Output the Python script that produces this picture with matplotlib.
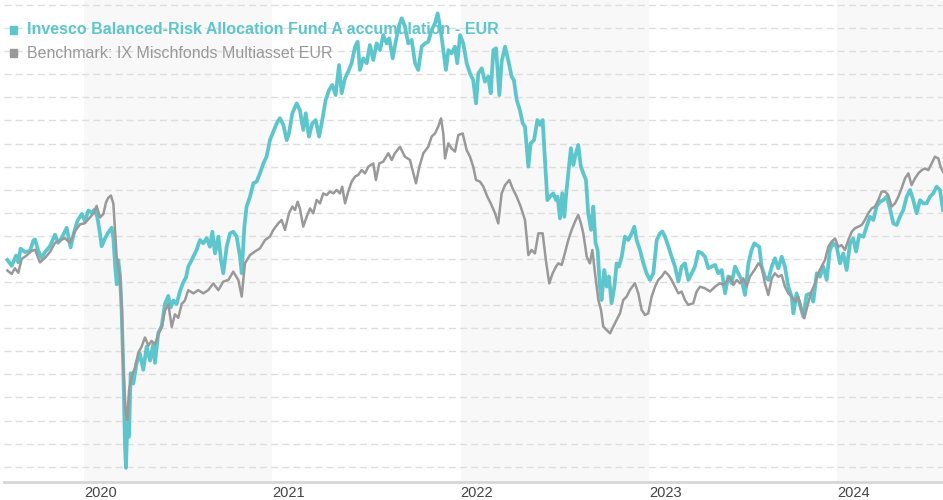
import matplotlib
matplotlib.use('Agg')
import matplotlib.pyplot as plt
from matplotlib.patches import Rectangle

# values, x in decimal years, y in gridline units
fund_t = [2019.592, 2019.615, 2019.638, 2019.650, 2019.662, 2019.685, 2019.712, 2019.730, 2019.739, 2019.756,
          2019.774, 2019.792, 2019.818, 2019.845, 2019.862, 2019.880, 2019.907, 2019.928, 2019.946, 2019.964,
          2019.987, 2020.004, 2020.022, 2020.040, 2020.057, 2020.070, 2020.084, 2020.093, 2020.111, 2020.128,
          2020.146, 2020.155, 2020.164, 2020.173, 2020.181, 2020.190, 2020.199, 2020.208, 2020.217, 2020.222,
          2020.229, 2020.238, 2020.247, 2020.261, 2020.279, 2020.296, 2020.314, 2020.332, 2020.350, 2020.367,
          2020.376, 2020.394, 2020.412, 2020.429, 2020.447, 2020.459, 2020.474, 2020.491, 2020.509, 2020.527,
          2020.541, 2020.553, 2020.571, 2020.597, 2020.615, 2020.633, 2020.651, 2020.668, 2020.681, 2020.695,
          2020.713, 2020.727, 2020.739, 2020.757, 2020.775, 2020.792, 2020.810, 2020.828, 2020.837, 2020.851,
          2020.863, 2020.881, 2020.899, 2020.916, 2020.934, 2020.952, 2020.969, 2020.987, 2021.005, 2021.023,
          2021.040, 2021.058, 2021.076, 2021.088, 2021.106, 2021.129, 2021.146, 2021.164, 2021.177, 2021.194,
          2021.212, 2021.230, 2021.248, 2021.265, 2021.283, 2021.301, 2021.318, 2021.336, 2021.354, 2021.368,
          2021.386, 2021.403, 2021.421, 2021.439, 2021.453, 2021.465, 2021.483, 2021.501, 2021.518, 2021.536,
          2021.554, 2021.572, 2021.589, 2021.607, 2021.621, 2021.639, 2021.657, 2021.674, 2021.687, 2021.704,
          2021.722, 2021.740, 2021.758, 2021.775, 2021.793, 2021.811, 2021.828, 2021.846, 2021.864, 2021.878,
          2021.894, 2021.908, 2021.922, 2021.935, 2021.952, 2021.970, 2021.982, 2021.997, 2022.014, 2022.032,
          2022.050, 2022.067, 2022.082, 2022.094, 2022.112, 2022.129, 2022.147, 2022.160, 2022.174, 2022.188,
          2022.206, 2022.218, 2022.236, 2022.253, 2022.271, 2022.283, 2022.298, 2022.315, 2022.330, 2022.342,
          2022.360, 2022.372, 2022.390, 2022.408, 2022.422, 2022.436, 2022.448, 2022.461, 2022.475, 2022.492,
          2022.507, 2022.515, 2022.528, 2022.540, 2022.551, 2022.563, 2022.576, 2022.586, 2022.599, 2022.611,
          2022.625, 2022.639, 2022.652, 2022.666, 2022.678, 2022.693, 2022.705, 2022.717, 2022.728, 2022.740,
          2022.749, 2022.763, 2022.776, 2022.788, 2022.802, 2022.817, 2022.829, 2022.841, 2022.856, 2022.873,
          2022.891, 2022.909, 2022.923, 2022.935, 2022.953, 2022.971, 2022.988, 2023.006, 2023.024, 2023.042,
          2023.059, 2023.072, 2023.086, 2023.104, 2023.121, 2023.139, 2023.157, 2023.174, 2023.192, 2023.210,
          2023.228, 2023.245, 2023.263, 2023.281, 2023.298, 2023.316, 2023.334, 2023.352, 2023.369, 2023.387,
          2023.405, 2023.422, 2023.440, 2023.458, 2023.475, 2023.493, 2023.511, 2023.529, 2023.546, 2023.561,
          2023.573, 2023.587, 2023.599, 2023.617, 2023.635, 2023.653, 2023.670, 2023.688, 2023.706, 2023.723,
          2023.741, 2023.759, 2023.768, 2023.785, 2023.803, 2023.821, 2023.838, 2023.860, 2023.874, 2023.892,
          2023.909, 2023.927, 2023.945, 2023.962, 2023.980, 2023.998, 2024.016, 2024.033, 2024.051, 2024.069,
          2024.086, 2024.101, 2024.118, 2024.140, 2024.157, 2024.175, 2024.193, 2024.210, 2024.228, 2024.246,
          2024.264, 2024.281, 2024.299, 2024.317, 2024.334, 2024.352, 2024.370, 2024.388, 2024.405, 2024.423,
          2024.441, 2024.458, 2024.476, 2024.494, 2024.511, 2024.529, 2024.547, 2024.563]
fund_v = [8.96, 8.7, 9.15, 8.85, 9.45, 9.3, 9.35, 9.8, 9.85, 9.35,
          9.05, 9.3, 9.55, 10.05, 9.7, 9.9, 10.35, 9.5, 10.15, 10.65,
          10.95, 10.65, 11.1, 11.0, 11.15, 10.8, 10.1, 9.55, 9.9, 10.15,
          10.35, 9.9, 8.75, 7.9, 8.95, 8.3, 6.75, 4.2, 0.85, -0.05,
          1.85, 1.3, 4.05, 3.6, 4.5, 4.9, 4.2, 5.2, 4.6, 5.3,
          4.5, 5.8, 6.1, 7.05, 7.4, 6.9, 7.2, 7.05, 7.6, 8.0,
          8.2, 8.67, 8.95, 9.39, 9.82, 9.68, 9.9, 9.53, 10.18, 9.24,
          9.97, 8.95, 8.38, 9.53, 10.11, 10.18, 9.97, 9.1, 8.38, 10.4,
          11.27, 11.7, 12.28, 12.35, 12.71, 13.14, 13.43, 14.15, 14.52, 14.88,
          15.1, 14.81, 14.15, 14.44, 15.31, 15.74, 15.45, 14.59, 15.31, 14.3,
          14.88, 15.02, 14.3, 15.02, 15.89, 16.32, 16.54, 16.1, 17.4, 16.18,
          16.83, 17.12, 17.48, 18.2, 18.41, 17.19, 17.69, 17.48, 18.27, 17.62,
          18.34, 18.05, 18.7, 18.34, 18.56, 17.69, 18.49, 19.14, 19.43, 19.07,
          18.34, 18.49, 17.48, 17.19, 18.2, 18.34, 18.41, 18.92, 19.21, 19.64,
          18.92, 18.05, 17.19, 18.05, 17.91, 18.2, 17.48, 18.7, 18.34, 17.48,
          17.04, 16.75, 15.74, 17.04, 17.26, 16.68, 16.9, 16.18, 18.05, 18.13,
          16.1, 17.55, 18.2, 17.62, 16.9, 16.75, 15.89, 15.45, 14.88, 14.73,
          13.0, 14.01, 14.15, 15.02, 14.81, 15.02, 13.29, 11.55, 11.7, 11.84,
          11.55, 11.7, 10.76, 11.85, 10.83, 11.99, 13.0, 13.8, 13.07, 13.51,
          13.94, 13.0, 12.71, 12.42, 10.98, 10.26, 11.27, 9.68, 9.39, 7.8,
          7.22, 8.52, 7.8, 8.24, 7.08, 7.8, 8.81, 8.67, 9.1, 9.97,
          9.82, 10.11, 10.4, 9.82, 9.39, 8.81, 8.38, 8.09, 8.38, 9.82,
          10.11, 10.19, 9.97, 9.54, 9.1, 8.67, 8.02, 8.67, 8.81, 8.09,
          8.38, 8.67, 9.32, 9.25, 9.1, 8.6, 8.67, 8.74, 8.38, 8.52,
          7.51, 8.24, 7.95, 8.67, 8.38, 8.09, 7.44, 8.81, 9.39, 9.68,
          9.6, 9.53, 8.67, 8.23, 8.09, 8.67, 9.03, 8.59, 9.1, 8.67,
          7.8, 7.37, 6.64, 7.51, 7.0, 6.5, 7.44, 7.51, 7.15, 8.38,
          8.23, 8.67, 8.09, 9.39, 9.68, 9.53, 8.81, 9.24, 8.52, 9.68,
          9.89, 9.32, 10.04, 9.96, 10.4, 10.83, 10.69, 11.27, 11.48, 11.55,
          11.7, 11.19, 10.54, 10.47, 10.83, 11.12, 11.7, 11.99, 11.55, 10.98,
          11.55, 11.41, 11.41, 11.7, 11.84, 12.13, 11.99, 11.12]

bench_t = [2019.592, 2019.615, 2019.632, 2019.650, 2019.668, 2019.694, 2019.721, 2019.739, 2019.765, 2019.792,
           2019.818, 2019.845, 2019.871, 2019.898, 2019.924, 2019.951, 2019.978, 2020.004, 2020.031, 2020.052,
           2020.066, 2020.084, 2020.102, 2020.116, 2020.128, 2020.142, 2020.155, 2020.164, 2020.173, 2020.181,
           2020.190, 2020.199, 2020.208, 2020.220, 2020.229, 2020.238, 2020.252, 2020.270, 2020.288, 2020.305,
           2020.323, 2020.341, 2020.358, 2020.376, 2020.394, 2020.412, 2020.429, 2020.447, 2020.465, 2020.482,
           2020.500, 2020.518, 2020.535, 2020.553, 2020.580, 2020.606, 2020.633, 2020.659, 2020.686, 2020.713,
           2020.739, 2020.766, 2020.792, 2020.819, 2020.837, 2020.854, 2020.881, 2020.907, 2020.934, 2020.961,
           2020.987, 2021.005, 2021.031, 2021.049, 2021.067, 2021.088, 2021.106, 2021.120, 2021.134, 2021.146,
           2021.164, 2021.182, 2021.200, 2021.217, 2021.235, 2021.253, 2021.270, 2021.288, 2021.306, 2021.324,
           2021.341, 2021.359, 2021.371, 2021.386, 2021.403, 2021.421, 2021.439, 2021.456, 2021.474, 2021.492,
           2021.510, 2021.536, 2021.550, 2021.568, 2021.589, 2021.616, 2021.634, 2021.651, 2021.678, 2021.704,
           2021.731, 2021.749, 2021.763, 2021.781, 2021.802, 2021.828, 2021.846, 2021.864, 2021.881, 2021.896,
           2021.908, 2021.917, 2021.935, 2021.952, 2021.970, 2021.988, 2022.011, 2022.032, 2022.050, 2022.067,
           2022.082, 2022.103, 2022.121, 2022.142, 2022.160, 2022.183, 2022.200, 2022.218, 2022.236, 2022.259,
           2022.276, 2022.298, 2022.319, 2022.342, 2022.360, 2022.377, 2022.395, 2022.413, 2022.436, 2022.453,
           2022.471, 2022.489, 2022.507, 2022.519, 2022.537, 2022.554, 2022.572, 2022.590, 2022.608, 2022.625,
           2022.639, 2022.652, 2022.670, 2022.687, 2022.700, 2022.714, 2022.732, 2022.746, 2022.758, 2022.776,
           2022.794, 2022.811, 2022.829, 2022.847, 2022.864, 2022.882, 2022.900, 2022.926, 2022.944, 2022.962,
           2022.980, 2022.997, 2023.015, 2023.033, 2023.050, 2023.068, 2023.086, 2023.104, 2023.121, 2023.139,
           2023.157, 2023.174, 2023.192, 2023.210, 2023.236, 2023.254, 2023.272, 2023.298, 2023.325, 2023.352,
           2023.378, 2023.396, 2023.413, 2023.431, 2023.449, 2023.467, 2023.484, 2023.502, 2023.520, 2023.537,
           2023.561, 2023.582, 2023.599, 2023.617, 2023.635, 2023.653, 2023.670, 2023.688, 2023.706, 2023.723,
           2023.741, 2023.759, 2023.777, 2023.794, 2023.812, 2023.826, 2023.842, 2023.860, 2023.883, 2023.900,
           2023.918, 2023.936, 2023.954, 2023.971, 2023.989, 2024.007, 2024.024, 2024.042, 2024.060, 2024.078,
           2024.095, 2024.113, 2024.131, 2024.148, 2024.166, 2024.184, 2024.202, 2024.219, 2024.237, 2024.255,
           2024.272, 2024.290, 2024.308, 2024.326, 2024.343, 2024.361, 2024.379, 2024.396, 2024.414, 2024.432,
           2024.450, 2024.467, 2024.485, 2024.503, 2024.520, 2024.538, 2024.550, 2024.563]
bench_v = [8.5, 8.35, 8.6, 8.4, 9.0, 9.15, 9.35, 9.4, 8.85, 9.05,
           9.3, 9.7, 9.8, 9.9, 9.7, 10.2, 10.5, 10.55, 10.8, 11.0,
           11.3, 10.8, 10.95, 11.45, 11.65, 11.75, 11.4, 10.25, 9.05, 8.65,
           8.2, 7.05, 4.3, 2.45, 2.0, 3.3, 3.9, 4.3, 4.95, 5.2,
           5.6, 5.25, 5.45, 5.3, 5.75, 6.05, 6.75, 7.05, 6.05, 6.6,
           6.45, 7.05, 7.2, 7.65, 7.51, 7.65, 7.51, 7.65, 7.94, 7.65,
           8.02, 8.09, 8.45, 8.09, 7.37, 8.81, 9.17, 9.32, 9.46, 9.82,
           9.97, 10.26, 10.54, 10.69, 10.26, 10.98, 11.27, 11.12, 11.48, 11.19,
           10.4, 10.83, 11.19, 10.98, 11.56, 11.41, 11.84, 11.77, 11.92, 11.84,
           11.99, 11.84, 12.13, 11.41, 11.92, 12.35, 12.57, 12.64, 12.85, 12.71,
           13.0, 13.14, 12.42, 13.14, 13.22, 13.58, 13.29, 13.58, 13.86, 13.43,
           13.29, 12.71, 12.28, 13.0, 13.58, 13.86, 14.3, 14.44, 14.73, 15.09,
           14.44, 13.36, 14.01, 13.79, 13.65, 14.37, 14.44, 13.72, 13.43, 13.0,
           12.42, 12.35, 12.13, 11.7, 11.41, 10.98, 10.54, 11.84, 12.2, 12.42,
           12.06, 11.7, 11.27, 10.69, 9.17, 9.39, 9.24, 10.11, 10.11, 8.95,
           7.94, 8.38, 8.67, 8.81, 8.74, 9.25, 9.82, 10.26, 10.62, 10.91,
           10.55, 10.11, 9.1, 8.81, 9.39, 8.38, 7.22, 6.79, 6.07, 5.92,
           5.78, 6.07, 6.36, 6.65, 7.22, 7.37, 7.66, 7.95, 7.51, 6.79,
           6.57, 6.65, 7.37, 7.8, 8.09, 8.24, 8.45, 8.31, 8.09, 7.8,
           7.51, 7.59, 7.22, 7.01, 7.08, 7.59, 7.8, 7.73, 7.59, 7.8,
           7.95, 7.87, 8.02, 8.24, 7.87, 8.09, 7.95, 8.16, 7.8, 8.24,
           8.52, 8.81, 8.67, 7.94, 7.44, 8.16, 8.38, 8.23, 8.3, 7.8,
           7.51, 7.37, 7.15, 7.37, 6.79, 6.43, 6.93, 7.51, 7.94, 8.38,
           8.67, 8.96, 9.53, 9.75, 9.89, 9.53, 9.6, 9.39, 9.82, 10.18,
           10.33, 10.4, 10.47, 10.69, 10.98, 11.19, 11.27, 11.55, 11.92, 11.92,
           11.77, 11.27, 11.41, 11.7, 12.06, 12.49, 12.71, 12.2, 12.49, 12.71,
           12.85, 12.92, 12.85, 13.14, 13.43, 13.36, 13.0, 12.78]

years = [2020, 2021, 2022, 2023, 2024]
fund_name = 'Invesco Balanced-Risk Allocation Fund A accumulation - EUR'
bench_name = 'Benchmark: IX Mischfonds Multiasset EUR'

teal = '#5dc6cd'
grey = '#999999'

plt.rcParams['font.family'] = ['Liberation Sans', 'DejaVu Sans']

W, H = 943, 500
fig = plt.figure(figsize=(W / 100, H / 100), dpi=100)
ax = fig.add_axes([4 / W, 18 / H, 939 / W, 482 / H])
x0, x1 = 2019.574, 2024.563
ax.set_xlim(x0, x1)
ax.set_ylim(-0.663, 20.22)

# alternating year bands
for y in years[::2]:
    ax.axvspan(y, min(y + 1, x1), color='#f8f8f8', lw=0, zorder=0)

for g in range(21):
    ax.axhline(g, color='#dedede', lw=1, linestyle=(0, (5, 3)), zorder=1)

ax.plot(fund_t, fund_v, color=teal, lw=2.7, zorder=3, solid_joinstyle='round')
ax.plot(bench_t, bench_v, color=grey, lw=1.8, zorder=4, solid_joinstyle='round')

for s in ['top', 'left', 'right']:
    ax.spines[s].set_visible(False)
ax.spines['bottom'].set_color('#d6d6d6')
ax.spines['bottom'].set_linewidth(2)
ax.set_yticks([])
ax.set_xticks(years, [str(y) for y in years])
for lbl in ax.get_xticklabels():
    lbl.set_horizontalalignment('left')
ax.tick_params(axis='x', length=0, pad=3, labelsize=10.5, labelcolor='#444444')

# legend drawn under the lines, like the original
ax.add_patch(Rectangle((10 / W, (H - 33.5) / H), 7 / W, 7 / H, transform=fig.transFigure,
                       color=teal, zorder=2, clip_on=False))
ax.add_patch(Rectangle((10 / W, (H - 56.5) / H), 7 / W, 7 / H, transform=fig.transFigure,
                       color=grey, zorder=2, clip_on=False))
ax.text(27 / W, (H - 30) / H, fund_name, transform=fig.transFigure, fontsize=11.5,
        fontweight='bold', color=teal, va='center', ha='left', zorder=2)
ax.text(27 / W, (H - 53) / H, bench_name, transform=fig.transFigure, fontsize=11.5,
        color=grey, va='center', ha='left', zorder=2)

fig.savefig('out.png', dpi=100)
